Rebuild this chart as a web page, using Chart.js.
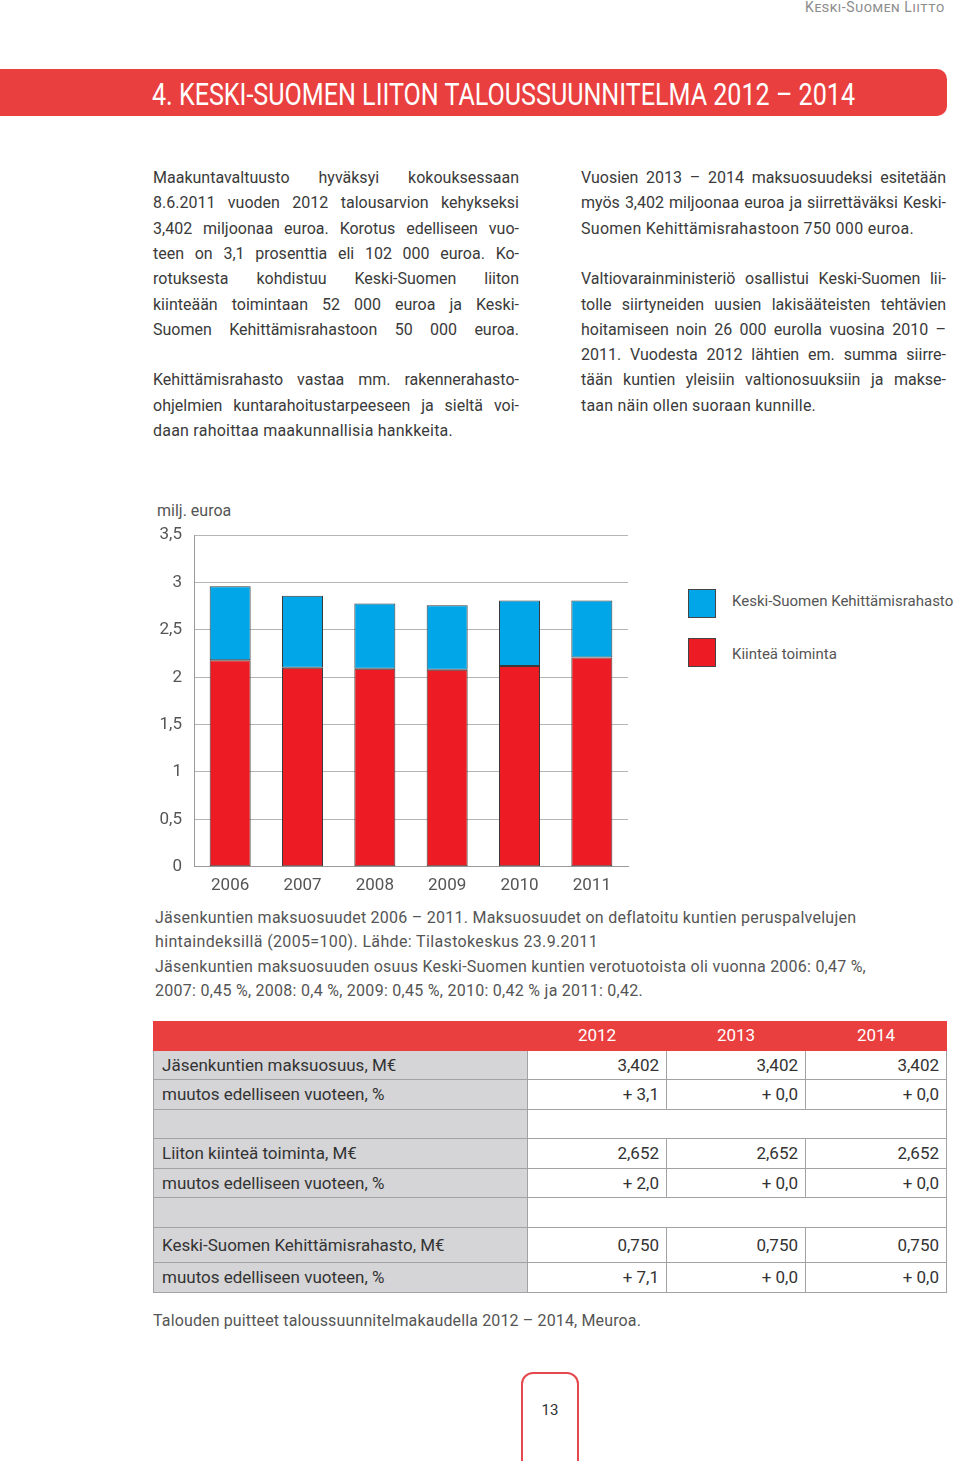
<!DOCTYPE html>
<html>
<head>
<meta charset="utf-8">
<script src="https://cdn.jsdelivr.net/npm/chart.js@4/dist/chart.umd.min.js"></script>
<style>
  html, body { margin: 0; padding: 0; background: #fff; }
  body { width: 960px; height: 1461px; position: relative; overflow: hidden;
         font-family: Roboto, "Noto Sans", sans-serif; color: #3a3a3a; }
  .ln { position: absolute; white-space: nowrap; font-size: 16px; line-height: 20px; }
  .cap { color: #555; }
  #runningHead { position: absolute; left: 805px; top: -2px; font-size: 14px; color: #8c8c8c;
                 font-variant: small-caps; white-space: nowrap; line-height: 18px; }
  #banner { position: absolute; left: 0; top: 69px; width: 947px; height: 47px;
            background: #e9403f; border-radius: 0 10px 10px 0; }
  #title { position: absolute; left: 152px; top: 77px; color: #fff; font-size: 31px;
           line-height: 36px; white-space: nowrap; transform-origin: 0 0; }
  #unit { position: absolute; left: 157px; top: 501px; font-size: 16px; color: #555; line-height: 20px; }
  #chartBox { position: absolute; left: 150px; top: 513px; }
  .lg-box { position: absolute; width: 26px; height: 27px; border: 1px solid #444; }
  .lg-txt { position: absolute; font-size: 15px; color: #555; line-height: 20px; white-space: nowrap; }
  #plan { position: absolute; left: 153px; top: 1021px; border-collapse: collapse;
          font-size: 17px; color: #333; table-layout: fixed; }
  #plan td { padding: 0; border: 1.5px solid #a2a2a2; }
  #plan td.lab { background: #d5d5d7; padding-left: 8px; }
  #plan td.val { text-align: right; padding-right: 7px; background: #fff; }
  #plan tr.head td { background: #e9403f; color: #fff; text-align: center; border-color: #e9403f;
                     border-left: 1px solid #f3a3a3; border-top: none; }
  #plan tr.head td:first-child { border-left-color: #e9403f; }
  #pageNo { position: absolute; left: 521px; top: 1372px; width: 54px; height: 110px;
            border: 2px solid #e5484d; border-radius: 12px 12px 0 0; background: #fff;
            text-align: center; font-size: 15px; color: #333; line-height: 20px; }
</style>
</head>
<body>

<div id="runningHead">Keski-Suomen Liitto</div>
<div id="banner"></div>
<div id="title">4. KESKI-SUOMEN LIITON TALOUSSUUNNITELMA 2012 – 2014</div>

<div id="unit">milj. euroa</div>
<div id="chartBox"><canvas id="maksuChart" width="480" height="387"></canvas></div>
<div id="legend"></div>

<table id="plan"></table>

<div class="ln cap" id="source" style="left:153px;top:1311px">Talouden puitteet taloussuunnitelmakaudella 2012 – 2014, Meuroa.</div>

<div id="pageNo"><div style="margin-top:26px">13</div></div>

<script>
'use strict';

// chart data
var years = ['2006', '2007', '2008', '2009', '2010', '2011'];
var kiintea = [2.18, 2.10, 2.09, 2.08, 2.12, 2.21];
var rahasto = [0.78, 0.76, 0.69, 0.68, 0.69, 0.60];
var seriesNames = ['Kiinteä toiminta', 'Keski-Suomen Kehittämisrahasto'];
var seriesColors = ['#ed1c24', '#00a6e8'];

// table data
var planYears = ['2012', '2013', '2014'];
var planRows = [
  ['Jäsenkuntien maksuosuus, M€', '3,402', '3,402', '3,402'],
  ['muutos edelliseen vuoteen, %', '+ 3,1', '+ 0,0', '+ 0,0'],
  null,
  ['Liiton kiinteä toiminta, M€', '2,652', '2,652', '2,652'],
  ['muutos edelliseen vuoteen, %', '+ 2,0', '+ 0,0', '+ 0,0'],
  null,
  ['Keski-Suomen Kehittämisrahasto, M€', '0,750', '0,750', '0,750'],
  ['muutos edelliseen vuoteen, %', '+ 7,1', '+ 0,0', '+ 0,0']
];
var planHeights = [29, 29, 30, 29, 30, 29, 30, 35, 30];

var leftText = [
  ['Maakuntavaltuusto hyväksyi kokouksessaan', 'j'],
  ['8.6.2011 vuoden 2012 talousarvion kehykseksi', 'j'],
  ['3,402 miljoonaa euroa. Korotus edelliseen vuo-', 'j'],
  ['teen on 3,1 prosenttia eli 102 000 euroa. Ko-', 'j'],
  ['rotuksesta kohdistuu Keski-Suomen liiton', 'j'],
  ['kiinteään toimintaan 52 000 euroa ja Keski-', 'j'],
  ['Suomen Kehittämisrahastoon 50 000 euroa.', 'j'],
  null,
  ['Kehittämisrahasto vastaa mm. rakennerahasto-', 'j'],
  ['ohjelmien kuntarahoitustarpeeseen ja sieltä voi-', 'j'],
  ['daan rahoittaa maakunnallisia hankkeita.', 300]
];
var rightText = [
  ['Vuosien 2013 – 2014 maksuosuudeksi esitetään', 'j'],
  ['myös 3,402 miljoonaa euroa ja siirrettäväksi Keski-', 'j'],
  ['Suomen Kehittämisrahastoon 750 000 euroa.', 333],
  null,
  ['Valtiovarainministeriö osallistui Keski-Suomen lii-', 'j'],
  ['tolle siirtyneiden uusien lakisääteisten tehtävien', 'j'],
  ['hoitamiseen noin 26 000 eurolla vuosina 2010 –', 'j'],
  ['2011. Vuodesta 2012 lähtien em. summa siirre-', 'j'],
  ['tään kuntien yleisiin valtionosuuksiin ja makse-', 'j'],
  ['taan näin ollen suoraan kunnille.', 235]
];
var captionText = [
  ['Jäsenkuntien maksuosuudet 2006 – 2011. Maksuosuudet on deflatoitu kuntien peruspalvelujen', 701],
  ['hintaindeksillä (2005=100). Lähde: Tilastokeskus 23.9.2011', 443],
  ['Jäsenkuntien maksuosuuden osuus Keski-Suomen kuntien verotuotoista oli vuonna 2006: 0,47 %,', 711],
  ['2007: 0,45 %, 2008: 0,4 %, 2009: 0,45 %, 2010: 0,42 % ja 2011: 0,42.', 488]
];

var fitList = [];

function fit(el, mode, width) {
  el.style.letterSpacing = '0px';
  el.style.wordSpacing = '0px';
  var w = el.getBoundingClientRect().width;
  if (mode === 'j') {
    var sp = (el.textContent.match(/ /g) || []).length;
    if (w > width || !sp) {
      el.style.letterSpacing = ((width - w) / el.textContent.length) + 'px';
    } else {
      el.style.wordSpacing = ((width - w) / sp) + 'px';
    }
  } else if (typeof mode === 'number') {
    el.style.letterSpacing = ((mode - w) / el.textContent.length) + 'px';
  }
}

function placeLines(lines, x, y0, step, width, cls) {
  lines.forEach(function(line, i) {
    if (!line) return;
    var el = document.createElement('div');
    el.className = 'ln' + (cls ? ' ' + cls : '');
    el.textContent = line[0];
    el.style.left = x + 'px';
    el.style.top = (y0 + i * step - 9) + 'px';
    document.body.appendChild(el);
    fitList.push([el, line[1], width]);
  });
}

placeLines(leftText, 153, 177, 25.3, 366);
placeLines(rightText, 581, 177, 25.3, 365);
placeLines(captionText, 155, 917, 24.3, 0, 'cap');
fitList.push([document.getElementById('source'), 488, 0]);
fitList.push([document.getElementById('runningHead'), 140, 0]);

function fitAll() {
  fitList.forEach(function(f) { fit(f[0], f[1], f[2]); });
  var t = document.getElementById('title');
  t.style.transform = 'none';
  var tw = t.getBoundingClientRect().width;
  t.style.transform = 'scaleX(' + (703 / tw) + ')';
}

// legend (blue first, as in the print)
var legend = document.getElementById('legend');
[[1, 589, 601], [0, 638, 654]].forEach(function(l) {
  var box = document.createElement('div');
  box.className = 'lg-box';
  box.style.left = '688px';
  box.style.top = l[1] + 'px';
  box.style.background = seriesColors[l[0]];
  legend.appendChild(box);
  var txt = document.createElement('div');
  txt.className = 'lg-txt';
  txt.style.left = '732px';
  txt.style.top = (l[2] - 10) + 'px';
  txt.textContent = seriesNames[l[0]];
  legend.appendChild(txt);
});

// table
var table = document.getElementById('plan');
var colW = [374, 139, 139, 141];
var cg = '<colgroup>' + colW.map(function(w) { return '<col style="width:' + w + 'px">'; }).join('') + '</colgroup>';
var html = cg + '<tr class="head" style="height:' + planHeights[0] + 'px"><td></td>' +
  planYears.map(function(y) { return '<td>' + y + '</td>'; }).join('') + '</tr>';
planRows.forEach(function(row, i) {
  var h = planHeights[i + 1];
  if (!row) {
    html += '<tr style="height:' + h + 'px"><td class="lab"></td><td class="val" colspan="3"></td></tr>';
  } else {
    html += '<tr style="height:' + h + 'px"><td class="lab">' + row[0] + '</td>' +
      row.slice(1).map(function(v) { return '<td class="val">' + v + '</td>'; }).join('') + '</tr>';
  }
});
table.innerHTML = html;

fitAll();
if (document.fonts && document.fonts.ready) document.fonts.ready.then(fitAll);

// chart
var ctx = document.getElementById('maksuChart').getContext('2d');
var chart = new Chart(ctx, {
  type: 'bar',
  data: {
    labels: years,
    datasets: [
      { label: seriesNames[0], data: kiintea, backgroundColor: seriesColors[0] },
      { label: seriesNames[1], data: rahasto, backgroundColor: seriesColors[1] }
    ]
  },
  options: {
    responsive: false,
    devicePixelRatio: 1,
    animation: false,
    layout: { padding: { top: 14, right: 2, left: 0, bottom: 0 } },
    datasets: {
      bar: {
        categoryPercentage: 1,
        barPercentage: 0.567,
        borderWidth: 1,
        borderColor: '#3a3a3a',
        borderSkipped: false
      }
    },
    plugins: { legend: { display: false }, tooltip: { enabled: false } },
    scales: {
      x: {
        stacked: true,
        grid: { display: false },
        border: { display: true, color: '#9a9a9a', width: 1 },
        ticks: { color: '#555', font: { family: 'Roboto', size: 17 }, padding: 1 },
        afterFit: function(s) { s.height = 33.3; }
      },
      y: {
        stacked: true,
        min: 0,
        max: 3.5,
        grid: { color: '#b5b5b5', lineWidth: 1, drawTicks: false },
        border: { display: true, color: '#9a9a9a', width: 1 },
        ticks: {
          stepSize: 0.5,
          color: '#555',
          padding: 12,
          font: { family: 'Roboto', size: 17 },
          callback: function(v) { return String(v).replace('.', ','); }
        },
        afterFit: function(s) { s.width = 44; }
      }
    }
  }
});
</script>
</body>
</html>
